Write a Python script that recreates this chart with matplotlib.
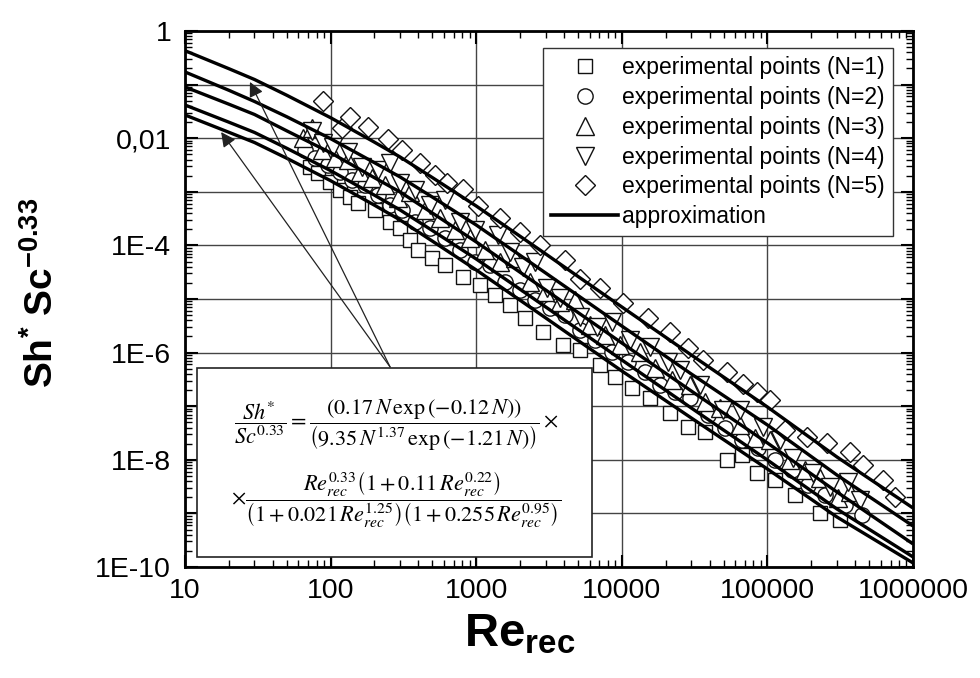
import math
import matplotlib.pyplot as plt
from matplotlib.ticker import LogLocator, FuncFormatter, NullFormatter
from matplotlib.patches import Rectangle
from matplotlib.lines import Line2D

plt.rcParams['font.family'] = ['Liberation Sans', 'DejaVu Sans']
plt.rcParams['mathtext.fontset'] = 'custom'
plt.rcParams['mathtext.rm'] = 'Liberation Sans'
plt.rcParams['mathtext.it'] = 'Liberation Sans:italic'
plt.rcParams['mathtext.bf'] = 'Liberation Sans:bold'

# approximation curves at these Re values
re_line = [10, 20, 30, 50, 100, 200, 300, 500, 1000, 3000, 1e4, 3e4, 1e5, 3e5, 1e6]
approx_n1 = [0.0271, 0.0129, 8.31e-3, 4.22e-3, 1.61e-3, 5.62e-4, 2.98e-4, 1.20e-4, 3.48e-5, 4.43e-6,
             4.54e-7, 6.03e-8, 6.73e-9, 8.57e-10, 1.19e-10]
approx_n2 = [0.0416, 0.0199, 0.0128, 6.48e-3, 2.48e-3, 8.64e-4, 4.58e-4, 1.89e-4, 5.57e-5, 7.10e-6,
             7.28e-7, 9.25e-8, 9.91e-9, 1.21e-9, 1.54e-10]
approx_n3 = [0.0902, 0.0431, 0.0277, 0.0137, 5.36e-3, 1.83e-3, 9.91e-4, 4.01e-4, 1.16e-4, 1.47e-5,
             1.51e-6, 1.92e-7, 2.06e-8, 2.51e-9, 2.69e-10]
approx_n4 = [0.172, 0.0783, 0.0484, 0.0251, 9.79e-3, 3.49e-3, 1.89e-3, 7.96e-4, 2.40e-4, 3.05e-5,
             3.13e-6, 3.99e-7, 4.46e-8, 5.20e-9, 5.82e-10]
approx_n5 = [0.429, 0.198, 0.1245, 0.0632, 0.0241, 8.42e-3, 4.46e-3, 1.84e-3, 5.43e-4, 6.92e-5,
             7.10e-6, 9.02e-7, 9.66e-8, 1.13e-8, 1.26e-9]

# experimental points
re_n1 = [72.3, 81.8, 99.1, 116, 136, 154, 202, 256, 300, 351, 398, 497, 611, 811, 1062, 1346, 1708, 2163,
         2875, 3945, 5160, 7080, 8980, 1.17e4, 1.56e4, 2.14e4, 2.85e4, 3.72e4, 5.28e4, 6.70e4, 8.49e4,
         1.13e5, 1.55e5, 2.30e5, 3.15e5]
sh_n1 = [2.90e-3, 2.24e-3, 1.52e-3, 1.08e-3, 8.00e-4, 6.18e-4, 4.57e-4, 2.74e-4, 2.11e-4, 1.26e-4, 8.20e-5,
         5.82e-5, 4.31e-5, 2.57e-5, 1.82e-5, 1.19e-5, 7.73e-6, 4.43e-6, 2.42e-6, 1.39e-6, 1.12e-6, 5.87e-7,
         3.51e-7, 2.19e-7, 1.42e-7, 7.46e-8, 4.09e-8, 3.30e-8, 9.91e-9, 1.23e-8, 5.68e-9, 4.20e-9, 2.20e-9,
         1.02e-9, 7.54e-10]

re_n2 = [66.7, 78.2, 96.0, 116, 140, 172, 212, 256, 309, 380, 482, 611, 774, 981, 1245, 1578, 2000, 2533,
         3213, 4070, 5160, 6550, 8570, 1.10e4, 1.44e4, 1.83e4, 2.32e4, 2.94e4, 3.91e4, 5.11e4, 6.70e4,
         8.63e4, 1.13e5, 1.48e5, 1.90e5, 2.49e5, 3.41e5, 4.47e5]
sh_n2 = [6.03e-3, 4.27e-3, 3.16e-3, 2.34e-3, 1.66e-3, 1.34e-3, 8.71e-4, 5.67e-4, 4.57e-4, 2.74e-4, 2.11e-4,
         1.37e-4, 8.20e-5, 4.90e-5, 4.31e-5, 2.07e-5, 1.47e-5, 9.58e-6, 6.79e-6, 5.03e-6, 2.64e-6, 1.72e-6,
         1.03e-6, 6.68e-7, 4.35e-7, 2.49e-7, 1.84e-7, 1.42e-7, 6.85e-8, 3.92e-8, 2.34e-8, 1.66e-8, 9.91e-9,
         6.46e-9, 3.39e-9, 2.20e-9, 1.44e-9, 9.33e-10]

re_n3 = [64.6, 74.5, 87.3, 107, 132, 159, 192, 236, 290, 351, 445, 564, 715, 906, 1148, 1455, 1844, 2343,
         2970, 3763, 4770, 6050, 7670, 9730, 1.33e4, 1.69e4, 2.21e4, 2.94e4, 3.72e4, 4.72e4, 6.48e4,
         8.22e4, 1.04e5, 1.43e5, 1.81e5, 2.30e5, 3.05e5, 3.69e5]
sh_n3 = [1.01e-2, 1.55e-2, 6.03e-3, 4.27e-3, 3.92e-3, 2.34e-3, 1.81e-3, 1.34e-3, 7.66e-4, 9.91e-4, 4.57e-4,
         3.24e-4, 1.94e-4, 1.37e-4, 8.20e-5, 4.90e-5, 5.82e-5, 2.07e-5, 1.35e-5, 8.79e-6, 9.58e-6, 3.27e-6,
         2.13e-6, 1.39e-6, 1.03e-6, 5.16e-7, 3.08e-7, 2.49e-7, 1.20e-7, 9.25e-8, 4.46e-8, 2.55e-8, 2.34e-8,
         9.91e-9, 6.46e-9, 4.57e-9, 1.94e-9, 2.51e-9]

re_n4 = [74.5, 88.7, 104, 132, 164, 212, 256, 300, 380, 482, 611, 774, 981, 1413, 1708, 2096, 2533, 3064,
         3763, 5160, 6760, 8570, 1.14e4, 1.56e4, 2.08e4, 2.51e4, 3.44e4, 4.95e4, 6.48e4, 9.33e4, 1.22e5,
         1.50e5, 2.06e5, 2.69e5, 3.58e5, 4.33e5]
sh_n4 = [1.36e-2, 8.13e-3, 6.85e-3, 5.53e-3, 2.90e-3, 2.55e-3, 3.44e-3, 1.46e-3, 1.08e-3, 5.67e-4, 7.03e-4,
         2.74e-4, 1.94e-4, 1.56e-4, 7.53e-5, 3.95e-5, 4.90e-5, 1.60e-5, 1.04e-5, 4.62e-6, 3.01e-6, 3.72e-6,
         1.72e-6, 1.27e-6, 6.68e-7, 4.73e-7, 2.49e-7, 8.49e-8, 8.49e-8, 4.09e-8, 2.34e-8, 1.08e-8, 5.68e-9,
         3.11e-9, 3.85e-9, 1.78e-9]

re_n5 = [88.7, 120, 136, 181, 248, 309, 411, 521, 630, 811, 1028, 1455, 2000, 2740, 4070, 5160, 7080,
         1.02e4, 1.51e4, 2.14e4, 2.85e4, 3.61e4, 5.28e4, 6.80e4, 8.49e4, 1.04e5, 1.32e5, 1.87e5, 2.57e5,
         3.69e5, 4.54e5, 6.22e5, 7.52e5]
sh_n5 = [4.94e-2, 1.55e-2, 2.49e-2, 1.62e-2, 9.66e-3, 6.03e-3, 3.44e-3, 2.06e-3, 1.46e-3, 1.13e-3, 5.43e-4,
         3.24e-4, 1.78e-4, 1.02e-4, 5.34e-5, 2.36e-5, 1.60e-5, 8.42e-6, 4.43e-6, 2.42e-6, 1.22e-6, 7.28e-7,
         4.35e-7, 2.60e-7, 1.84e-7, 1.31e-7, 3.60e-8, 2.66e-8, 2.06e-8, 1.40e-8, 8.0e-9, 4.20e-9, 2.02e-9]

y_tick_labels = {0: '1', -2: '0,01', -4: '1E-4', -6: '1E-6', -8: '1E-8', -10: '1E-10'}
legend_labels = ['experimental points (N=1)', 'experimental points (N=2)', 'experimental points (N=3)',
                 'experimental points (N=4)', 'experimental points (N=5)', 'approximation']

fig = plt.figure(figsize=(9.8, 6.78), dpi=100)
ax = fig.add_axes([0.1888, 0.1637, 0.7429, 0.7906])
ax.set_xscale('log')
ax.set_yscale('log')
ax.set_xlim(10, 1e6)
ax.set_ylim(1e-10, 1)

# points (white filled, drawn under the curves)
series = [(re_n1, sh_n1, 's', 10.5), (re_n2, sh_n2, 'o', 11), (re_n3, sh_n3, '^', 12.5),
          (re_n4, sh_n4, 'v', 12.5), (re_n5, sh_n5, 'D', 10.5)]
handles = []
for re_v, sh_v, mk, ms in series:
    h, = ax.plot(re_v, sh_v, linestyle='none', marker=mk, markersize=ms, markerfacecolor='white',
                 markeredgecolor='#111', markeredgewidth=1.0, zorder=3)
    handles.append(h)

for approx in [approx_n1, approx_n2, approx_n3, approx_n4, approx_n5]:
    ax.plot(re_line, approx, color='black', lw=2.4, zorder=4, solid_capstyle='butt')
handles.append(Line2D([], [], color='black', lw=2.6))

# axes styling
ax.xaxis.set_major_locator(LogLocator(base=10, numticks=20))
ax.xaxis.set_minor_locator(LogLocator(base=10, subs=range(2, 10), numticks=100))
ax.yaxis.set_major_locator(LogLocator(base=10, numticks=20))
ax.yaxis.set_minor_locator(LogLocator(base=10, subs=range(2, 10), numticks=100))
ax.xaxis.set_major_formatter(FuncFormatter(lambda v, p: '%d' % round(v)))
ax.yaxis.set_major_formatter(FuncFormatter(lambda v, p: y_tick_labels.get(int(round(math.log10(v))), '')))
ax.xaxis.set_minor_formatter(NullFormatter())
ax.yaxis.set_minor_formatter(NullFormatter())
ax.tick_params(which='both', direction='in', top=True, right=True)
ax.tick_params(which='major', length=9, width=1.5, labelsize=20.5, pad=8)
ax.tick_params(which='minor', length=5, width=1.0)
ax.tick_params(axis='y', which='major', pad=10)
for sp in ax.spines.values():
    sp.set_linewidth(2.0)
ax.grid(True, which='major', color='#444', lw=1.0)
ax.set_axisbelow(True)

ax.set_xlabel(r'$\mathbf{Re_{rec}}$', fontsize=34)
ax.xaxis.set_label_coords(0.46, -0.085)
ax.set_ylabel(r'$\mathbf{Sh^{*}\ Sc^{-0.33}}$', fontsize=28)
ax.yaxis.set_label_coords(-0.17, 0.511)

leg = ax.legend(handles, legend_labels, loc='upper right', bbox_to_anchor=(0.9725, 0.9683),
                bbox_transform=ax.transAxes, borderaxespad=0, frameon=True, fancybox=False,
                edgecolor='#333', framealpha=1, fontsize=16.5, handlelength=2.9, handletextpad=0.2,
                labelspacing=0.3, borderpad=0.35)
leg.get_frame().set_linewidth(1.0)
leg.set_zorder(10)

# formula box with arrows pointing at the curves
ax.add_patch(Rectangle((0.0165, 0.0187), 0.5425, 0.352, transform=ax.transAxes, facecolor='white',
                       edgecolor='#222', lw=1.2, zorder=5))
for tip in [(27.9, 0.112), (17.7, 0.0130)]:
    ax.annotate('', xy=tip, xytext=(256, 5.4e-7),
                arrowprops=dict(arrowstyle='-|>', color='#222', lw=0.9, mutation_scale=22,
                                shrinkA=0, shrinkB=0), zorder=6)

ax.text(0.291, 0.265,
        r'$\dfrac{Sh^{*}}{Sc^{0.33}}=\dfrac{\left(0.17\,N\,\exp\left(-0.12\,N\right)\right)}'
        r'{\left(9.35\,N^{1.37}\,\exp\left(-1.21\,N\right)\right)}\times$',
        transform=ax.transAxes, ha='center', va='center', fontsize=16, math_fontfamily='stix', zorder=7)
ax.text(0.29, 0.125,
        r'$\times\dfrac{Re_{rec}^{0.33}\left(1+0.11\,Re_{rec}^{0.22}\right)}'
        r'{\left(1+0.021\,Re_{rec}^{1.25}\right)\left(1+0.255\,Re_{rec}^{0.95}\right)}$',
        transform=ax.transAxes, ha='center', va='center', fontsize=16, math_fontfamily='stix', zorder=7)

fig.savefig('out.png', dpi=100)
